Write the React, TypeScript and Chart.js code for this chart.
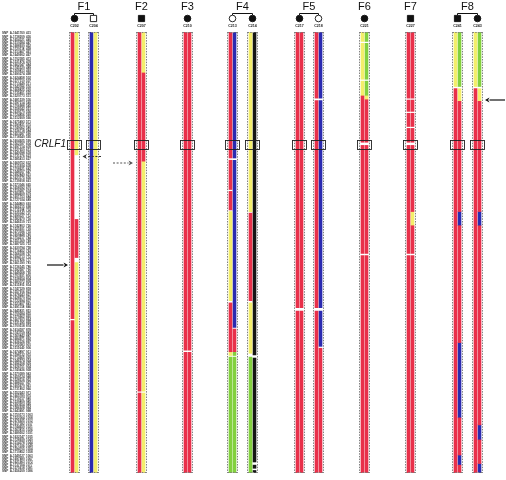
import { useEffect, useRef } from 'react';
import { Chart, registerables } from 'chart.js';
Chart.register(...registerables);

type Seg = [number, number, string];

const COLORS: Record<string, string> = { R: '#e8304a', Y: '#f3ee6b', B: '#2b2bb0', G: '#82d03e', K: '#151515' };
const COLOR_NAMES: Record<string, string> = { R: 'red', Y: 'yellow', B: 'blue', G: 'green', K: 'black' };
const N_MARKERS = 140;

const FAMILIES = ['F1', 'F2', 'F3', 'F4', 'F5', 'F6', 'F7', 'F8'];
const IDS = ['C202', 'C204', 'C207', 'C210', 'C213', 'C214', 'C217', 'C218', 'C221', 'C227', 'C241', 'C243'];
const FAMILY_OF = ['F1', 'F1', 'F2', 'F3', 'F4', 'F4', 'F5', 'F5', 'F6', 'F7', 'F8', 'F8'];
const SEX = ['F', 'M', 'M', 'F', 'F', 'F', 'F', 'F', 'F', 'M', 'M', 'F'];
const AFFECTED = [1, 0, 1, 1, 0, 1, 1, 0, 1, 1, 1, 1];

const MARKER_IDS = `1641760 1738209 1654321 1510284 1688930 1720118 1513467 1649902 1702385 1531876
1662047 1745520 1509813 1690274 1624458 1577310 1713649 1542096 1668825 1735401
1520773 1681539 1597214 1706988 1558342 1639170 1724856 1512609 1675493 1590831
1749062 1536718 1653287 1718540 1604925 1562187 1697314 1527650 1640098 1731276
1585413 1669752 1515934 1708621 1548307 1692840 1623175 1739918 1573046 1658392
1519287 1684609 1601753 1727034 1544860 1666215 1711598 1535142 1699327 1582670
1646519 1742803 1525931 1673186 1609448 1754217 1551369 1687025 1630794 1716452
1566038 1694713 1517826 1661390 1736145 1592587 1649268 1703931 1538654 1680072
1611805 1747329 1557916 1678243 1628570 1722694 1523407 1691158 1645831 1709284
1579962 1667603 1531295 1700518 1614187 1743759 1560842 1684971 1636326 1725083
1511640 1674897 1598132 1714965 1546574 1696208 1626751 1740436 1570389 1659124
1528516 1688357 1605670 1731802 1552243 1665780 1719317 1539809 1693654 1586928
1643491 1750173 1522064 1676925 1617382 1744650 1563815 1689502 1632147 1728939
1514378 1671036 1594705 1710852 1549127 1697480 1621963 1737054 1575618 1656209`.split(/\s+/);

const MARKER_POS = `431 436 440 447 452 458 461 467 473 478
484 489 493 498 502 507 511 516 520 525
531 536 540 545 551 556 560 566 571 575
580 584 590 595 599 604 609 613 618 623
627 632 638 642 647 651 656 661 665 670
674 679 684 689 693 698 702 707 712 716
721 726 730 735 740 744 749 753 758 763
767 772 777 781 786 790 795 800 804 809
814 818 823 827 832 837 841 846 851 855
860 864 869 874 878 883 887 892 897 901
906 911 915 920 924 929 934 938 943 948
952 957 961 966 971 975 980 985 989 994
998 1003 1008 1012 1017 1021 1026 1031 1035 1040
1044 1049 1054 1058 1063 1067 1072 1077 1081 1086`.split(/\s+/);

// haplotype segments [startMarker, endMarker, colour]
const C202_A: Seg[] = [[0, 91, 'R'], [91.6, 140, 'R']];
const C202_B: Seg[] = [[0, 39, 'Y'], [59.5, 71.6, 'R'], [73.2, 140, 'Y']];
const C204_A: Seg[] = [[0, 140, 'B']];
const C204_B: Seg[] = [[0, 140, 'Y']];
const C207_A: Seg[] = [[0, 114, 'R'], [114.6, 140, 'R']];
const C207_B: Seg[] = [[0, 13, 'Y'], [13, 41, 'R'], [41, 114, 'Y'], [114.6, 140, 'Y']];
const C210_A: Seg[] = [[0, 101, 'R'], [101.7, 140, 'R']];
const C210_B: Seg[] = [[0, 101, 'R'], [101.7, 140, 'R']];
const C213_A: Seg[] = [[0, 40, 'R'], [40.7, 50, 'R'], [50.6, 56.5, 'R'], [57, 85.3, 'Y'], [86, 101.5, 'R'], [101.5, 102.7, 'Y'], [103.2, 140, 'G']];
const C213_B: Seg[] = [[0, 40, 'B'], [40.7, 93.8, 'B'], [94.3, 101.5, 'R'], [101.5, 102.7, 'G'], [103.2, 140, 'G']];
const C214_A: Seg[] = [[0, 57, 'Y'], [57.5, 85.3, 'R'], [86, 102, 'Y'], [103.2, 140, 'G']];
const C214_B: Seg[] = [[0, 102.5, 'K'], [103.5, 136.5, 'K'], [137.5, 138.5, 'K'], [139.2, 140, 'K']];
const C217_A: Seg[] = [[0, 87.5, 'R'], [88.6, 140, 'R']];
const C217_B: Seg[] = [[0, 87.5, 'R'], [88.6, 140, 'R']];
const C218_A: Seg[] = [[0, 21, 'R'], [21.8, 87.5, 'R'], [88.6, 140, 'R']];
const C218_B: Seg[] = [[0, 21, 'B'], [21.8, 87.5, 'B'], [88.6, 99.8, 'B'], [100.4, 140, 'R']];
const C221_A: Seg[] = [[0, 3, 'Y'], [3.6, 15, 'Y'], [15.6, 20.3, 'Y'], [20.3, 35, 'R'], [36, 70.3, 'R'], [71, 140, 'R']];
const C221_B: Seg[] = [[0, 3, 'G'], [3.6, 15, 'G'], [15.6, 20.3, 'G'], [20.3, 21.5, 'Y'], [21.5, 35, 'R'], [36, 70.3, 'R'], [71, 140, 'R']];
const C227_A: Seg[] = [[0, 21, 'R'], [21.6, 25.2, 'R'], [25.8, 30, 'R'], [30.6, 35, 'R'], [36, 70.3, 'R'], [71, 140, 'R']];
const C227_B: Seg[] = [[0, 21, 'R'], [21.6, 25.2, 'R'], [25.8, 30, 'R'], [30.6, 35, 'R'], [36, 57, 'R'], [57, 61.5, 'Y'], [61.5, 70.3, 'R'], [71, 140, 'R']];
const C241_A: Seg[] = [[0, 17.3, 'Y'], [18, 140, 'R']];
const C241_B: Seg[] = [[0, 17.3, 'G'], [18, 22, 'Y'], [22, 57, 'R'], [57, 61.5, 'B'], [61.5, 98.6, 'R'], [98.6, 122.5, 'B'], [122.5, 134.3, 'R'], [134.3, 137.5, 'B'], [137.5, 140, 'R']];
const C243_A: Seg[] = [[0, 17.3, 'Y'], [18, 140, 'R']];
const C243_B: Seg[] = [[0, 17.3, 'G'], [18, 22, 'Y'], [22, 57, 'R'], [57, 61.5, 'B'], [61.5, 124.7, 'R'], [124.7, 129.5, 'B'], [129.5, 137, 'R'], [137, 140, 'B']];

const HAPLOTYPES: Seg[][][] = [
  [C202_A, C202_B], [C204_A, C204_B], [C207_A, C207_B], [C210_A, C210_B],
  [C213_A, C213_B], [C214_A, C214_B], [C217_A, C217_B], [C218_A, C218_B],
  [C221_A, C221_B], [C227_A, C227_B], [C241_A, C241_B], [C243_A, C243_B],
];

// layout (pixel positions of each individual's column, half-pixel centred)
const COL_X = [74.5, 93.5, 141.5, 187.5, 232.5, 252.5, 299.5, 318.5, 364.5, 410.5, 457.5, 477.5];
const STRAND_OFFSET = 2;
const CRLF1_RANGE = [34.2, 37];

function buildDatasets() {
  const codes = Object.keys(COLORS);
  return codes.map((c) => {
    const data: any[] = [];
    HAPLOTYPES.forEach((pair, i) => {
      pair.forEach((strand, s) => {
        strand.forEach(([a, b, col]) => {
          if (col === c) data.push({ x: COL_X[i] + (s === 0 ? -STRAND_OFFSET : STRAND_OFFSET), y: [a, b] });
        });
      });
    });
    return {
      label: COLOR_NAMES[c],
      data,
      backgroundColor: COLORS[c],
      borderWidth: 0,
      barThickness: 3,
      maxBarThickness: 3,
      barPercentage: 1,
      categoryPercentage: 1,
      grouped: false,
    };
  });
}

function arrow(ctx: CanvasRenderingContext2D, x1: number, y: number, x2: number, dashed: boolean, color: string) {
  const dir = x2 > x1 ? 1 : -1;
  const head = 4.5;
  ctx.save();
  ctx.strokeStyle = color;
  ctx.fillStyle = color;
  ctx.lineWidth = 1.2;
  if (dashed) ctx.setLineDash([2, 1.6]);
  ctx.beginPath();
  ctx.moveTo(x1, y);
  ctx.lineTo(x2 - dir * head, y);
  ctx.stroke();
  ctx.setLineDash([]);
  ctx.beginPath();
  ctx.moveTo(x2, y);
  ctx.lineTo(x2 - dir * head, y - 2.5);
  ctx.lineTo(x2 - dir * head * 0.7, y);
  ctx.lineTo(x2 - dir * head, y + 2.5);
  ctx.closePath();
  ctx.fill();
  ctx.restore();
}

const decoPlugin = {
  id: 'deco',
  afterDatasetsDraw(chart: any) {
    const ctx: CanvasRenderingContext2D = chart.ctx;
    const ys = chart.scales.y;
    const top = chart.chartArea.top;
    const bottom = chart.chartArea.bottom;
    ctx.save();

    // marker labels
    ctx.fillStyle = '#3a3a3a';
    ctx.font = 'bold 3px "Liberation Sans", Arial, sans-serif';
    ctx.textBaseline = 'middle';
    ctx.textAlign = 'left';
    for (let i = 0; i < N_MARKERS; i++) {
      const y = ys.getPixelForValue(i + 0.5);
      ctx.fillText('SNP_A-' + MARKER_IDS[i], 2, y);
      ctx.fillText(MARKER_POS[i], 26, y);
    }

    // dashed column borders
    ctx.strokeStyle = '#808080';
    ctx.lineWidth = 1;
    ctx.setLineDash([1.5, 1.2]);
    COL_X.forEach((cx) => {
      const l = cx - 5;
      const r = cx + 5;
      ctx.beginPath();
      ctx.moveTo(l, top); ctx.lineTo(l, bottom);
      ctx.moveTo(r, top); ctx.lineTo(r, bottom);
      ctx.moveTo(l, top + 0.5); ctx.lineTo(r, top + 0.5);
      ctx.moveTo(l, bottom - 0.5); ctx.lineTo(r, bottom - 0.5);
      ctx.stroke();
    });
    ctx.setLineDash([]);

    // CRLF1 boxes
    const by1 = ys.getPixelForValue(CRLF1_RANGE[0]);
    const by2 = ys.getPixelForValue(CRLF1_RANGE[1]);
    ctx.strokeStyle = '#222';
    ctx.lineWidth = 0.9;
    COL_X.forEach((cx) => {
      ctx.strokeRect(cx - 7, Math.round(by1) + 0.5, 14, Math.round(by2 - by1));
    });

    // CRLF1 label
    ctx.fillStyle = '#111';
    ctx.font = 'italic 10px "Liberation Sans", Arial, sans-serif';
    ctx.textAlign = 'right';
    ctx.textBaseline = 'middle';
    ctx.fillText('CRLF1', 66, (by1 + by2) / 2 + 0.5);

    // pedigree
    const symY = 18.5;
    FAMILIES.forEach((f) => {
      const members = IDS.map((_, i) => i).filter((i) => FAMILY_OF[i] === f);
      const xs = members.map((i) => COL_X[i]);
      const mid = (Math.min(...xs) + Math.max(...xs)) / 2;
      ctx.fillStyle = '#111';
      ctx.font = '11px "Liberation Sans", Arial, sans-serif';
      ctx.textAlign = 'center';
      ctx.textBaseline = 'middle';
      ctx.fillText(f, mid, 6.5);
      if (members.length > 1) {
        ctx.strokeStyle = '#111';
        ctx.lineWidth = 1;
        ctx.beginPath();
        ctx.moveTo(xs[0], 15); ctx.lineTo(xs[0], 13.5);
        ctx.lineTo(xs[xs.length - 1], 13.5); ctx.lineTo(xs[xs.length - 1], 15);
        ctx.stroke();
      }
    });
    IDS.forEach((id, i) => {
      const cx = COL_X[i];
      ctx.beginPath();
      if (SEX[i] === 'F') ctx.arc(cx, symY, 3.3, 0, Math.PI * 2);
      else ctx.rect(cx - 3.1, symY - 3.1, 6.2, 6.2);
      ctx.lineWidth = 0.9;
      ctx.strokeStyle = '#111';
      ctx.fillStyle = AFFECTED[i] ? '#111' : '#fff';
      ctx.fill();
      ctx.stroke();
      ctx.fillStyle = '#222';
      ctx.font = 'bold 3.6px "Liberation Sans", Arial, sans-serif';
      ctx.textAlign = 'center';
      ctx.fillText(id, cx, 25.7);
    });

    // arrows
    arrow(ctx, 47, 265, 68, false, '#111');
    arrow(ctx, 505, 100, 485, false, '#111');
    arrow(ctx, 101, 156.5, 82.5, true, '#333');
    arrow(ctx, 113, 163, 133, true, '#555');

    ctx.restore();
  },
};

export default function App() {
  const ref = useRef<HTMLCanvasElement | null>(null);
  useEffect(() => {
    if (!ref.current) return;
    const chart = new Chart(ref.current, {
      type: 'bar',
      data: { datasets: buildDatasets() as any },
      options: {
        responsive: false,
        animation: false,
        maintainAspectRatio: false,
        layout: { padding: { top: 32, bottom: 7, left: 0, right: 0 } },
        plugins: { legend: { display: false }, tooltip: { enabled: false } },
        scales: {
          x: { type: 'linear', min: 0, max: 506, offset: false, display: false },
          y: { type: 'linear', min: 0, max: N_MARKERS, reverse: true, display: false },
        },
      },
      plugins: [decoPlugin],
    });
    return () => chart.destroy();
  }, []);
  return (
    <div style={{ position: 'absolute', left: 0, top: 0, width: 506, height: 480, background: '#fff' }}>
      <canvas ref={ref} width={506} height={480} style={{ display: 'block' }} />
    </div>
  );
}
